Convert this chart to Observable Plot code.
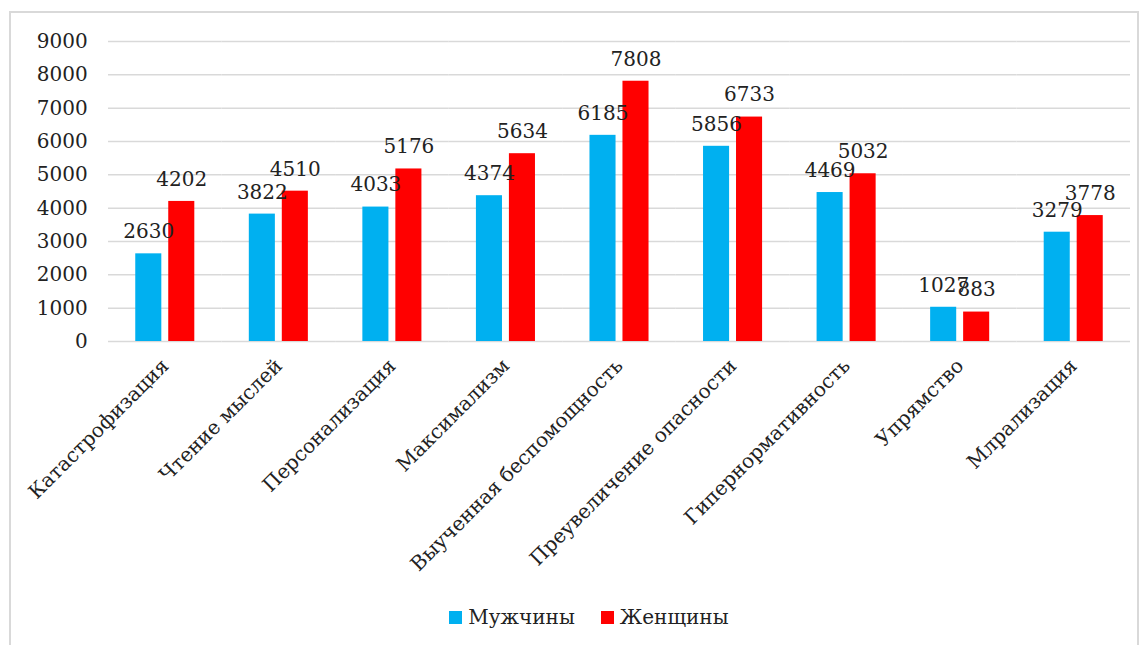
<!DOCTYPE html>
<html>
<head>
<meta charset="utf-8">
<script src="https://cdn.jsdelivr.net/npm/d3@7"></script>
<script src="https://cdn.jsdelivr.net/npm/@observablehq/plot@0.6"></script>
<style>
  html, body { margin: 0; padding: 0; background: #fff; width: 1148px; height: 645px; overflow: hidden; }
  #frame { position: absolute; left: 9px; top: 11px; width: 1130px; height: 700px; border: 2px solid #d9d9d9; box-sizing: border-box; }
  #chart { position: absolute; left: 11px; top: 13px; }
  #legend { position: absolute; left: 0; width: 1178px; top: 605px; display: flex; justify-content: center; gap: 26px;
            font-family: "DejaVu Serif"; font-size: 20px; color: #222; }
  #legend .item { display: flex; align-items: center; gap: 6px; }
  #legend .sw { width: 13px; height: 13px; display: inline-block; }
</style>
</head>
<body>
<div id="frame"></div>
<div id="chart"></div>
<div id="legend"></div>
<script>
const categories = ["Катастрофизация", "Чтение мыслей", "Персонализация", "Максимализм", "Выученная беспомощность", "Преувеличение опасности", "Гипернормативность", "Упрямство", "Млрализация"];
const men = [2630, 3822, 4033, 4374, 6185, 5856, 4469, 1027, 3279];
const women = [4202, 4510, 5176, 5634, 7808, 6733, 5032, 883, 3778];
const seriesNames = ["Мужчины", "Женщины"];
const seriesColors = ["#00B0F0", "#FF0000"];
const yTicks = [0, 1000, 2000, 3000, 4000, 5000, 6000, 7000, 8000, 9000];

const data = categories.flatMap((c, i) => [
  {category: c, series: seriesNames[0], value: men[i]},
  {category: c, series: seriesNames[1], value: women[i]}
]);

const W = 1128, ML = 97, MR = 9;
const padIn = 0.48, padOut = 0.24;
const step = (W - ML - MR) / (categories.length - padIn + 2 * padOut);
const gridExtend = -step * padIn / 2; // join per-facet grid segments into continuous lines

const chart = Plot.plot({
  width: W,
  height: 582,
  marginTop: 28,
  marginLeft: ML,
  marginRight: MR,
  marginBottom: 254,
  style: {fontFamily: "DejaVu Serif", fontSize: "20px", color: "#222", background: "transparent"},
  fx: {domain: categories, paddingInner: padIn, paddingOuter: padOut, round: false, label: null},
  x: {domain: seriesNames, paddingInner: 0.21, paddingOuter: 0, round: false, axis: null},
  y: {domain: [0, 9000], label: null},
  color: {domain: seriesNames, range: seriesColors},
  marks: [
    Plot.ruleY(yTicks, {stroke: "#d9d9d9", strokeWidth: 1.5, insetLeft: gridExtend, insetRight: gridExtend}),
    Plot.axisY(yTicks, {tickSize: 0, tickPadding: 48, fontSize: 20, tickFormat: d => String(d), label: null}),
    Plot.axisFx({anchor: "bottom", tickRotate: -45, tickSize: 0, tickPadding: 21, fontSize: 20, label: null}),
    Plot.barY(data, {fx: "category", x: "series", y: "value", fill: "series"}),
    Plot.text(data, {fx: "category", x: "series", y: "value", text: d => String(d.value), dy: -22, fontSize: 20, fill: "#222"})
  ]
});
document.getElementById("chart").appendChild(chart);

const legend = document.getElementById("legend");
seriesNames.forEach((s, i) => {
  const item = document.createElement("div");
  item.className = "item";
  const sw = document.createElement("span");
  sw.className = "sw";
  sw.style.background = seriesColors[i];
  const t = document.createElement("span");
  t.textContent = s;
  item.appendChild(sw);
  item.appendChild(t);
  legend.appendChild(item);
});
</script>
</body>
</html>
